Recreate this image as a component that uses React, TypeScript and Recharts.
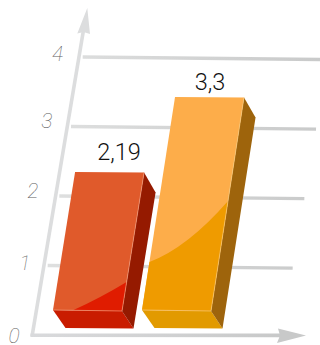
import React from 'react';
import { Bar, CartesianGrid, ComposedChart, LabelList, XAxis, YAxis } from 'recharts';

const categories = ['Serie 1', 'Serie 2'];
const seriesValues = [2.19, 3.3];
const yTicks = [0, 1, 2, 3, 4];

const chartData = categories.map((name, i) => ({ name, value: seriesValues[i] }));

const FONT = 'Roboto, "Liberation Sans", sans-serif';

// the whole chart leans to the right: pixels of x per pixel of height
const AXIS_LEAN = 0.168;
const ORIGIN = { x: 31, y: 335 };

// box colours; gloss is given in face units (u across, v up)
const boxStyles = [
  {
    face: '#e05a2b', gloss: '#e01c00', side: '#951a00', bottom: '#c91c00', edge: '#f09a78',
    lean: 0.16, labelShift: 0, labelLift: 12,
    glossPath: [[0.29, 0], [0.65, 0.09], [1, 0.21], [1, 0]],
  },
  {
    face: '#fdad4a', gloss: '#ef9b00', side: '#9e640c', bottom: '#e29a00', edge: '#f8c878',
    lean: 0.155, labelShift: -9, labelLift: 6.5,
    glossPath: [[0, 0.225], [0.52, 0.296], [1, 0.516], [1, 0], [0, 0]],
  },
];

// nudges the numbers along the axis so they sit next to their grid line
const tickNudge = [
  { dx: 0, dy: 0.5 },
  { dx: 0, dy: -3 },
  { dx: -3, dy: -6 },
  { dx: 0, dy: -6 },
  { dx: 0, dy: -4 },
];

const pts = (list: number[][]) => list.map((p) => p.join(',')).join(' ');

const Box3D = (props: any) => {
  const { x, y, width, height, index } = props;
  const st = boxStyles[index];
  // the rect reaches down to value 0, the box front stops 10px above that
  const bottomY = y + height - 10;
  const faceH = bottomY - y;
  const shift = faceH * st.lean;

  const bl = [x, bottomY];
  const br = [x + width, bottomY + 1];
  const tl = [x + shift, y];
  const tr = [x + width + shift, y + 0.5];

  const onFace = (u: number, v: number) => [x + u * width + v * shift, bottomY + u - v * faceH];
  const [g0, g1, g2, ...rest] = st.glossPath.map(([u, v]) => onFace(u, v));
  const glossD =
    `M${g0[0]},${g0[1]} Q${g1[0]},${g1[1]} ${g2[0]},${g2[1]} ` +
    rest.map((p) => `L${p[0]},${p[1]}`).join(' ') + ' Z';

  return (
    <g>
      <polygon
        points={pts([bl, br, [br[0] + 11.5, br[1] + 17.5], [bl[0] + 12.5, bl[1] + 18]])}
        fill={st.bottom}
      />
      <polygon
        points={pts([tr, [tr[0] + 11.5, tr[1] + 20], [br[0] + 11.5, br[1] + 17.5], br])}
        fill={st.side}
      />
      <polygon points={pts([bl, br, tr, tl])} fill={st.face} />
      <path d={glossD} fill={st.gloss} />
      <polyline points={pts([bl, br, tr])} fill="none" stroke={st.edge} strokeWidth={0.7} />
    </g>
  );
};

const ValueLabel = (props: any) => {
  const { x, y, width, height, value, index } = props;
  const st = boxStyles[index];
  const shift = (height - 10) * st.lean;
  return (
    <text
      x={x + width / 2 + shift + st.labelShift + 9.5}
      y={y - st.labelLift}
      textAnchor="middle"
      fontFamily={FONT}
      fontWeight={300}
      fontSize={23.5}
      fill="#111111"
    >
      {String(value).replace('.', ',')}
    </text>
  );
};

const TickNumber = (props: any) => {
  const { y, payload, index } = props;
  const nudge = tickNudge[index] || { dx: 0, dy: 0 };
  return (
    <text
      x={14 + (ORIGIN.y - y) * 0.157 + nudge.dx}
      y={y + nudge.dy + 7.5}
      textAnchor="middle"
      fontFamily={FONT}
      fontStyle="italic"
      fontWeight={100}
      fontSize={21}
      fill="#5f5f5f"
    >
      {payload.value}
    </text>
  );
};

// grid lines start off the leaning axis and drift slightly downward
const GridLine = (props: any) => {
  const { y1, index } = props;
  if (y1 >= ORIGIN.y - 1) return <g key={`grid-${index}`} />;
  const startX = 31 + (ORIGIN.y - y1) * AXIS_LEAN + 5;
  const endX = startX + 245;
  return (
    <line
      key={`grid-${index}`}
      x1={startX}
      y1={y1}
      x2={endX}
      y2={y1 + 2.6}
      stroke="url(#gridFade)"
      strokeWidth={3.4}
    />
  );
};

const AxisArrows = () => (
  <g>
    <defs>
      <linearGradient id="gridFade" gradientUnits="userSpaceOnUse" x1="40" y1="0" x2="320" y2="0">
        <stop offset="0" stopColor="#dfe0e0" />
        <stop offset="1" stopColor="#c9caca" />
      </linearGradient>
      <linearGradient id="xArrowFade" gradientUnits="userSpaceOnUse" x1="30" y1="0" x2="306" y2="0">
        <stop offset="0" stopColor="#d9dadc" />
        <stop offset="1" stopColor="#c6c7c7" />
      </linearGradient>
    </defs>
    <line x1={32} y1={336.5} x2={83.5} y2={30} stroke="#dcddde" strokeWidth={3.6} />
    <polygon points="87.3,8 90,34 83.5,32 77.3,33.5" fill="#dcddde" />
    <line x1={30.5} y1={335.2} x2={280} y2={335.4} stroke="url(#xArrowFade)" strokeWidth={3.6} />
    <polygon points="278,328.5 306,335.5 277,343 280,335.4" fill="#c8c9c9" />
  </g>
);

export default function App() {
  return (
    <div style={{ position: 'absolute', left: 0, top: 0, width: 320, height: 345, overflow: 'hidden' }}>
      <ComposedChart
        width={320}
        height={345}
        data={chartData}
        margin={{ top: 57, right: 99, bottom: 10, left: 42 }}
      >
        <AxisArrows />
        <CartesianGrid yAxisId="grid" vertical={false} horizontal={GridLine} />
        <XAxis dataKey="name" hide />
        <YAxis
          yAxisId="grid"
          width={1}
          type="number"
          domain={[0, 4]}
          allowDataOverflow
          ticks={yTicks}
          axisLine={false}
          tickLine={false}
          tick={TickNumber}
          interval={0}
        />
        {/* the boxes stand on a baseline a little above the drawn x axis */}
        <YAxis yAxisId="bars" hide type="number" domain={[-0.222, 3.89]} allowDataOverflow />
        <Bar yAxisId="bars" dataKey="value" barSize={69} isAnimationActive={false} shape={Box3D}>
          <LabelList dataKey="value" content={ValueLabel} />
        </Bar>
      </ComposedChart>
    </div>
  );
}
